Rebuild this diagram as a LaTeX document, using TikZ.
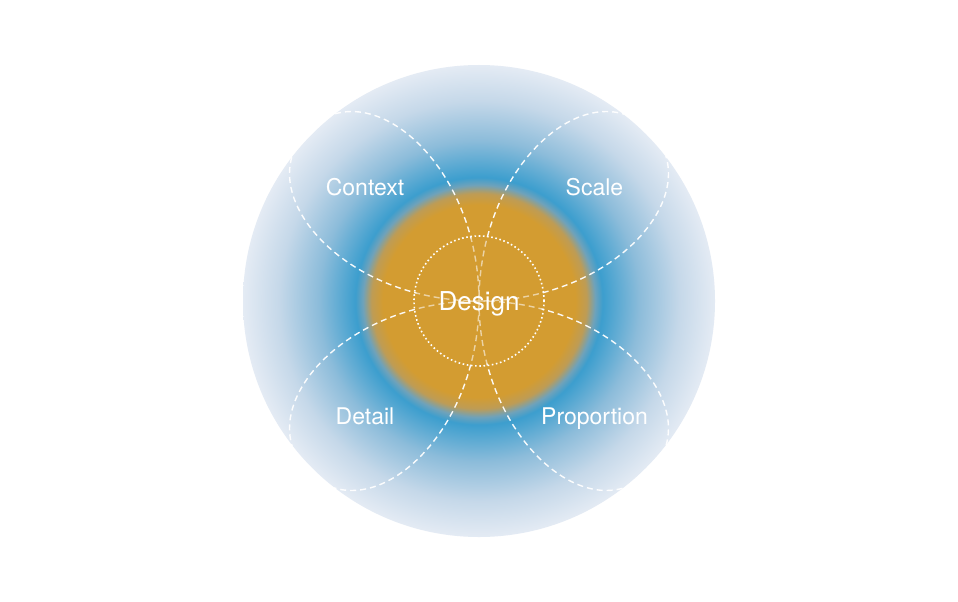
\documentclass[tikz,border=0pt]{standalone}
\usepackage{fontspec}
\setmainfont{TeX Gyre Heros}
\definecolor{cOr}{HTML}{D39C31}
\definecolor{cOrB}{HTML}{BE9C55}
\definecolor{cTr}{HTML}{6FA2BA}
\definecolor{cBl}{HTML}{3C9ECE}
\definecolor{cBlB}{HTML}{8CBCDA}
\definecolor{cBlC}{HTML}{C5D8E9}
\definecolor{cEdge}{HTML}{E4EBF4}
\pgfdeclareradialshading{discshade}{\pgfpointorigin}{%
  color(0bp)=(cOr); color(10.2bp)=(cOr); color(11.4bp)=(cOrB); color(12.3bp)=(cTr);
  color(13.1bp)=(cBl); color(17.0bp)=(cBlB); color(21.2bp)=(cBlC); color(25bp)=(cEdge); color(50bp)=(cEdge)}
\tikzset{
  petalline/.style={draw=white, line width=1.4pt, dash pattern=on 6pt off 4pt, opacity=0.95},
  coreline/.style={circle, draw=white, line width=1.6pt, dash pattern=on 1.6pt off 2.6pt, minimum size=130pt, inner sep=0pt},
  lbl/.style={text=white, font=\fontsize{23}{26}\selectfont, anchor=base, inner sep=0pt},
  biglbl/.style={text=white, font=\fontsize{26}{30}\selectfont, anchor=base, inner sep=0pt}
}
\begin{document}
\begin{tikzpicture}[x=1pt,y=-1pt]
\useasboundingbox (0,0) rectangle (958,602);
\fill[white] (0,0) rectangle (958,602);
\shade[shading=discshade] (479,301) circle[radius=236pt];
\draw[petalline] plot[domain=0:360,samples=721,smooth]
  ({479+252*sin(2*\x)*(1-0.04*(sin(2*\x))^8)*cos(\x)},{301+252*sin(2*\x)*(1-0.04*(sin(2*\x))^8)*sin(\x)});
\fill[cOr, opacity=0.4] (479,301) circle[radius=63pt];
\node[coreline] (core) at (479,301) {};
\node[biglbl] (design) at (479,310) {Design};
\node[lbl] (context) at (365,195.3) {Context};
\node[lbl] (scale) at (594.5,195.3) {Scale};
\node[lbl] (detail) at (365,424.5) {Detail};
\node[lbl] (proportion) at (594.5,424.5) {Proportion};
\end{tikzpicture}
\end{document}
